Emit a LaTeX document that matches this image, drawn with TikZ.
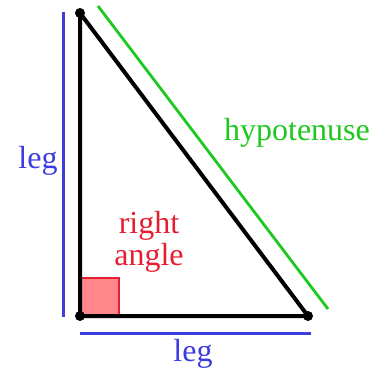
\documentclass[tikz,border=0pt]{standalone}
\usepackage{fontspec}
\setmainfont{Liberation Serif}
\definecolor{legblue}{RGB}{60,60,225}
\definecolor{hypgreen}{RGB}{30,200,30}
\definecolor{angred}{RGB}{230,30,50}
\definecolor{angfill}{RGB}{255,135,140}
\begin{document}
\begin{tikzpicture}[x=1pt,y=-1pt,
  lbl/.style={font=\fontsize{32}{34}\selectfont, inner sep=0pt},
  vdot/.style={circle, fill=black, inner sep=0pt, minimum size=10pt}]
\useasboundingbox (0,0) rectangle (377,371);
\coordinate (A) at (80,13);
\coordinate (B) at (80,316);
\coordinate (C) at (308,316);
\fill[angfill] (80,278) rectangle (119,316);
\draw[angred, line width=2.4pt] (80,278) -| (119,316);
\draw[line width=4pt, line join=round] (A) -- (B) -- (C) -- cycle;
\node[vdot] (a) at (A) {};
\node[vdot] (b) at (B) {};
\node[vdot] (c) at (C) {};
\coordinate (lv1) at (63,12);
\coordinate (lv2) at (63,317);
\draw[legblue, line width=3pt] (lv1) -- (lv2);
\coordinate (lh1) at (80,333);
\coordinate (lh2) at (311,333);
\draw[legblue, line width=3pt] (lh1) -- (lh2);
\coordinate (h1) at (98,6);
\coordinate (h2) at (328,309);
\draw[hypgreen, line width=2.8pt] (h1) -- (h2);
\node[lbl, text=legblue] (legL) at (38,161) {leg};
\node[lbl, text=legblue] (legB) at (193,354) {leg};
\node[lbl, text=hypgreen] (hyp) at (297,133) {hypotenuse};
\node[lbl, text=angred, align=center, font=\fontsize{32}{32}\selectfont] (ra) at (149,242) {right\\angle};
\end{tikzpicture}
\end{document}
